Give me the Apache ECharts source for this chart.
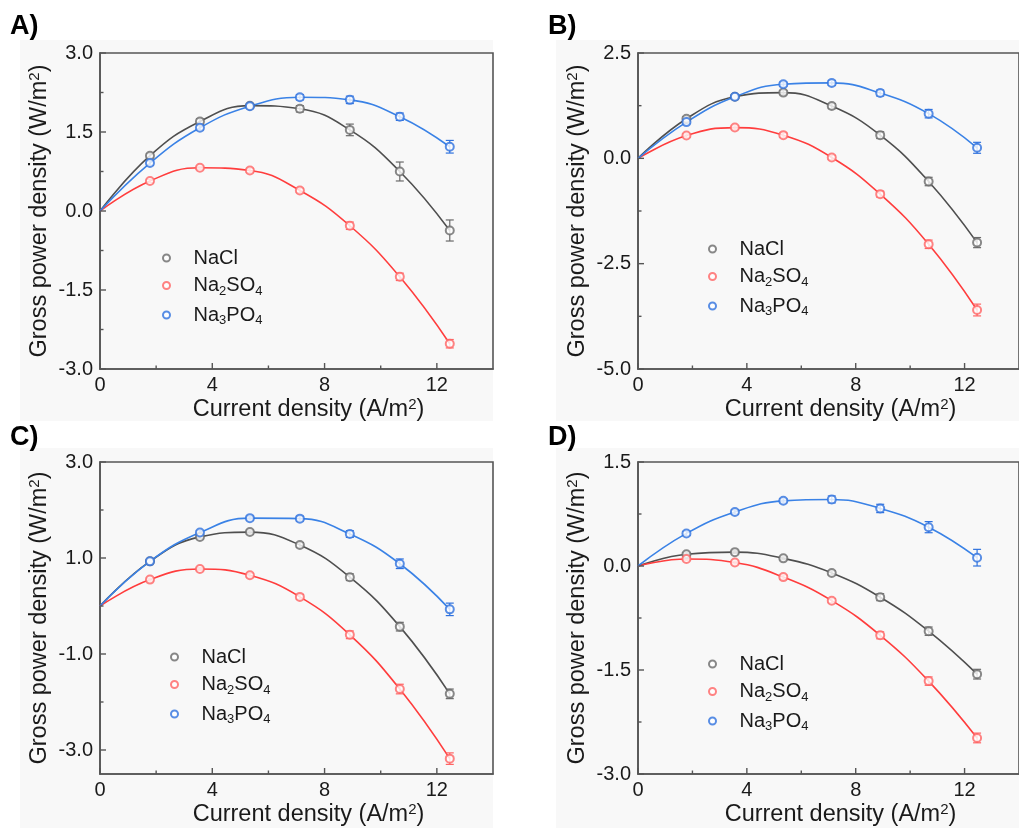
<!DOCTYPE html>
<html>
<head>
<meta charset="utf-8">
<script src="https://cdn.jsdelivr.net/npm/echarts@6/dist/echarts.min.js"></script>
<style>
  html, body { margin: 0; padding: 0; background: #ffffff; }
  #chart { width: 1019px; height: 828px; }
</style>
</head>
<body>
<div id="chart"></div>
<script>
// Current density at which each cell was measured (A/m2)
const currentDensity = [1.78, 3.56, 5.34, 7.12, 8.90, 10.68, 12.46];
// Every fitted curve starts at zero current / zero power
const origin = [0, 0];

const saltNames = ['NaCl', 'Na2SO4', 'Na3PO4'];
const panelLabels = ['A)', 'B)', 'C)', 'D)'];

const xTicks = [0, 4, 8, 12];
const xMinorTicks = [2, 6, 10];

// Panel A – gross power density (W/m2) and standard deviations
const powerA_NaCl   = [1.05, 1.70, 2.00, 1.94, 1.54, 0.75, -0.37];
const powerA_Na2SO4 = [0.57, 0.82, 0.77, 0.39, -0.28, -1.25, -2.52];
const powerA_Na3PO4 = [0.91, 1.58, 1.99, 2.16, 2.11, 1.79, 1.22];
const errA_NaCl     = [0.04, 0.05, 0.03, 0.06, 0.11, 0.18, 0.20];
const errA_Na2SO4   = [0.03, 0.03, 0.04, 0.04, 0.07, 0.07, 0.08];
const errA_Na3PO4   = [0.04, 0.04, 0.03, 0.05, 0.07, 0.07, 0.12];
const yTicksA = [-3, -1.5, 0, 1.5, 3];
const yMinorTicksA = [-2.25, -0.75, 0.75, 2.25];

// Panel B
const powerB_NaCl   = [0.94, 1.46, 1.56, 1.24, 0.55, -0.55, -2.00];
const powerB_Na2SO4 = [0.54, 0.73, 0.55, 0.02, -0.85, -2.04, -3.60];
const powerB_Na3PO4 = [0.86, 1.46, 1.76, 1.79, 1.55, 1.06, 0.25];
const errB_NaCl     = [0.05, 0.04, 0.05, 0.06, 0.08, 0.10, 0.12];
const errB_Na2SO4   = [0.04, 0.04, 0.05, 0.05, 0.07, 0.10, 0.14];
const errB_Na3PO4   = [0.04, 0.04, 0.05, 0.06, 0.07, 0.10, 0.13];
const yTicksB = [-5, -2.5, 0, 2.5];
const yMinorTicksB = [-3.75, -1.25, 1.25];

// Panel C
const powerC_NaCl   = [0.93, 1.44, 1.54, 1.27, 0.60, -0.43, -1.83];
const powerC_Na2SO4 = [0.55, 0.77, 0.64, 0.19, -0.60, -1.73, -3.18];
const powerC_Na3PO4 = [0.93, 1.53, 1.83, 1.82, 1.50, 0.88, -0.07];
const errC_NaCl     = [0.03, 0.04, 0.04, 0.05, 0.07, 0.09, 0.10];
const errC_Na2SO4   = [0.03, 0.03, 0.04, 0.05, 0.08, 0.10, 0.12];
const errC_Na3PO4   = [0.03, 0.04, 0.04, 0.05, 0.07, 0.10, 0.13];
const yTicksC = [-3, -1, 1, 3];
const yMinorTicksC = [-2, 0, 2];

// Panel D
const powerD_NaCl   = [0.17, 0.20, 0.11, -0.10, -0.45, -0.94, -1.56];
const powerD_Na2SO4 = [0.10, 0.05, -0.16, -0.50, -1.00, -1.66, -2.48];
const powerD_Na3PO4 = [0.47, 0.78, 0.94, 0.96, 0.83, 0.56, 0.12];
const errD_NaCl     = [0.02, 0.02, 0.02, 0.03, 0.05, 0.06, 0.07];
const errD_Na2SO4   = [0.02, 0.02, 0.03, 0.03, 0.05, 0.06, 0.07];
const errD_Na3PO4   = [0.03, 0.03, 0.03, 0.05, 0.06, 0.08, 0.12];
const yTicksD = [-3, -1.5, 0, 1.5];
const yMinorTicksD = [-2.25, -0.75, 0.75];

// ---- styling / layout ----
const FONT = '"Liberation Sans", Arial, sans-serif';
const AXIS_COLOR = '#555555';
const TEXT_COLOR = '#1a1a1a';
const lineColors   = ['#4f4f4f', '#ff3d3d', '#3a82e6'];
const markerColors = ['#6a6a6a', '#ff6464', '#2f72de'];
const X_MIN = 0, X_MAX = 14;

const panels = [
  { label: panelLabels[0], values: [powerA_NaCl, powerA_Na2SO4, powerA_Na3PO4], errors: [errA_NaCl, errA_Na2SO4, errA_Na3PO4],
    yMin: -3, yMax: 3, yTicks: yTicksA, yMinor: yMinorTicksA,
    box: { left: 100, top: 53, width: 393, height: 316 }, bg: { x: 20, y: 40, w: 473, h: 381 },
    labelPos: [10, 27], legendPos: { left: 162, top: 248 } },
  { label: panelLabels[1], values: [powerB_NaCl, powerB_Na2SO4, powerB_Na3PO4], errors: [errB_NaCl, errB_Na2SO4, errB_Na3PO4],
    yMin: -5, yMax: 2.5, yTicks: yTicksB, yMinor: yMinorTicksB,
    box: { left: 638, top: 53, width: 393, height: 316 }, bg: { x: 556, y: 40, w: 463, h: 381 },
    labelPos: [548, 27], legendPos: { left: 708, top: 239 } },
  { label: panelLabels[2], values: [powerC_NaCl, powerC_Na2SO4, powerC_Na3PO4], errors: [errC_NaCl, errC_Na2SO4, errC_Na3PO4],
    yMin: -3.5, yMax: 3, yTicks: yTicksC, yMinor: yMinorTicksC,
    box: { left: 100, top: 462, width: 393, height: 316 }, bg: { x: 20, y: 448, w: 473, h: 380 },
    labelPos: [10, 438], legendPos: { left: 170, top: 647 } },
  { label: panelLabels[3], values: [powerD_NaCl, powerD_Na2SO4, powerD_Na3PO4], errors: [errD_NaCl, errD_Na2SO4, errD_Na3PO4],
    yMin: -3, yMax: 1.5, yTicks: yTicksD, yMinor: yMinorTicksD,
    box: { left: 638, top: 462, width: 393, height: 316 }, bg: { x: 556, y: 448, w: 463, h: 380 },
    labelPos: [548, 438], legendPos: { left: 708, top: 654 } }
];

// chemical formula -> rich text with subscripted digits
function formulaRich(name) {
  return name.split(/(\d)/).filter(s => s.length).map(s => /\d/.test(s) ? '{b|' + s + '}' : '{t|' + s + '}').join('');
}

const nameRich = {
  t: { fontFamily: FONT, fontSize: 23.5, color: TEXT_COLOR, lineHeight: 26 },
  p: { fontFamily: FONT, fontSize: 15, color: TEXT_COLOR, lineHeight: 12, verticalAlign: 'top' }
};

// Inward-pointing tick marks, placed through the panel's own axes.
// dir 'x': ticks on the bottom edge at the given x values; dir 'y': ticks on the left edge.
function tickSeries(pi, p, dir, values, len) {
  return {
    type: 'custom', xAxisIndex: pi, yAxisIndex: pi, silent: true, clip: false, z: 5,
    data: values.map(v => dir === 'x' ? [v, p.yMin] : [X_MIN, v]),
    encode: { x: 0, y: 1 },
    renderItem: (params, api) => {
      const c = api.coord([api.value(0), api.value(1)]);
      const shape = dir === 'x'
        ? { x1: c[0], y1: c[1], x2: c[0], y2: c[1] - len }
        : { x1: c[0], y1: c[1], x2: c[0] + len, y2: c[1] };
      return { type: 'line', shape: shape, style: { stroke: AXIS_COLOR, lineWidth: 1.4 } };
    }
  };
}

const grids = [], xAxes = [], yAxes = [], series = [], legends = [], graphics = [];

panels.forEach((p, pi) => {
  grids.push({
    left: p.box.left, top: p.box.top, width: p.box.width, height: p.box.height,
    show: true, borderColor: AXIS_COLOR, borderWidth: 1.6, backgroundColor: 'transparent'
  });

  xAxes.push({
    type: 'value', gridIndex: pi, min: X_MIN, max: X_MAX, interval: 2, position: 'bottom',
    name: '{t|Current density (A/m}{p|2}{t|)}', nameLocation: 'middle', nameGap: 28,
    nameTextStyle: { padding: [0, 0, 0, 24], rich: nameRich },
    axisLine: { show: true, onZero: false, lineStyle: { color: AXIS_COLOR, width: 1.6 } },
    splitLine: { show: false },
    axisTick: { show: false },
    axisLabel: { customValues: xTicks, margin: 6, fontFamily: FONT, fontSize: 20, color: TEXT_COLOR }
  });

  yAxes.push({
    type: 'value', gridIndex: pi, min: p.yMin, max: p.yMax, position: 'left',
    name: '{t|Gross power density (W/m}{p|2}{t|)}', nameLocation: 'middle', nameGap: 47,
    nameTextStyle: { rich: nameRich },
    axisLine: { show: true, onZero: false, lineStyle: { color: AXIS_COLOR, width: 1.6 } },
    splitLine: { show: false },
    axisTick: { show: false },
    axisLabel: { customValues: p.yTicks, margin: 7, fontFamily: FONT, fontSize: 20, color: TEXT_COLOR,
      formatter: v => v.toFixed(1) }
  });

  series.push(tickSeries(pi, p, 'x', xTicks, 6));
  series.push(tickSeries(pi, p, 'x', xMinorTicks, 3.5));
  series.push(tickSeries(pi, p, 'y', p.yTicks, 6));
  series.push(tickSeries(pi, p, 'y', p.yMinor, 3.5));

  saltNames.forEach((salt, si) => {
    const pts = currentDensity.map((x, k) => [x, p.values[si][k]]);
    // fitted curve
    series.push({
      type: 'line', name: salt + ' fit ' + p.label, xAxisIndex: pi, yAxisIndex: pi,
      data: [origin].concat(pts), smooth: 0.45, showSymbol: false, silent: true,
      lineStyle: { color: lineColors[si], width: 1.6 }, z: 2
    });
    // error bars
    const col = markerColors[si];
    series.push({
      type: 'custom', name: salt + ' err ' + p.label, xAxisIndex: pi, yAxisIndex: pi, silent: true, z: 3,
      data: currentDensity.map((x, k) => [x, p.values[si][k], p.errors[si][k]]),
      encode: { x: 0, y: 1 },
      renderItem: (params, api) => {
        const x = api.value(0), y = api.value(1), e = api.value(2);
        const t = api.coord([x, y + e]), b = api.coord([x, y - e]);
        const w = 4;
        const st = { stroke: col, lineWidth: 1.2, fill: null };
        return {
          type: 'group', children: [
            { type: 'line', shape: { x1: t[0], y1: t[1], x2: b[0], y2: b[1] }, style: st },
            { type: 'line', shape: { x1: t[0] - w, y1: t[1], x2: t[0] + w, y2: t[1] }, style: st },
            { type: 'line', shape: { x1: b[0] - w, y1: b[1], x2: b[0] + w, y2: b[1] }, style: st }
          ]
        };
      }
    });
    // measured points
    series.push({
      type: 'scatter', name: salt, xAxisIndex: pi, yAxisIndex: pi, z: 4,
      data: pts, symbol: 'emptyCircle', symbolSize: 8,
      itemStyle: { color: col, borderColor: col, borderWidth: 1.3 }
    });
  });

  legends.push({
    left: p.legendPos.left, top: p.legendPos.top, orient: 'vertical', padding: 0,
    itemWidth: 44, itemHeight: 7, itemGap: 7.5, selectedMode: false,
    data: saltNames.map((n, si) => ({
      name: n, icon: 'emptyCircle',
      itemStyle: { color: markerColors[si], borderColor: markerColors[si], borderWidth: 1.2 }
    })),
    formatter: formulaRich,
    textStyle: {
      rich: {
        t: { fontFamily: FONT, fontSize: 20, color: TEXT_COLOR, lineHeight: 24 },
        b: { fontFamily: FONT, fontSize: 13, color: TEXT_COLOR, lineHeight: 9, verticalAlign: 'bottom' }
      }
    }
  });

  graphics.push({
    type: 'rect', z: -10, silent: true,
    shape: { x: p.bg.x, y: p.bg.y, width: p.bg.w, height: p.bg.h },
    style: { fill: '#f8f8f8' }
  });
  graphics.push({
    type: 'text', z: 10, silent: true, x: p.labelPos[0], y: p.labelPos[1],
    style: { text: p.label, font: 'bold 27px ' + FONT, fill: '#000', textVerticalAlign: 'middle' }
  });
});

const chart = echarts.init(document.getElementById('chart'), null, { renderer: 'canvas' });
chart.setOption({
  animation: false,
  backgroundColor: '#ffffff',
  graphic: graphics,
  grid: grids,
  xAxis: xAxes,
  yAxis: yAxes,
  legend: legends,
  series: series
});
</script>
</body>
</html>
